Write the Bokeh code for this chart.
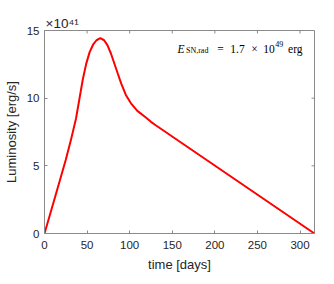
from bokeh.plotting import figure
from bokeh.models import Range1d, FixedTicker, Label
from bokeh.embed import file_html
from bokeh.resources import INLINE

# ---- data (luminosity in units of 1e41 erg/s) ----
days = [0, 12, 25, 31, 37, 41, 45, 49, 53, 57, 61, 65.5, 70, 74, 78, 82, 86, 90,
        95.5, 101.5, 109, 119, 125, 131, 317]
lum = [0, 2.6, 5.45, 6.9, 8.5, 9.95, 11.4, 12.55, 13.4, 13.95, 14.28, 14.43, 14.28,
       13.9, 13.3, 12.56, 11.82, 11.09, 10.24, 9.62, 9.06, 8.57, 8.25, 7.98, 0]
x_ticks = [0, 50, 100, 150, 200, 250, 300]
y_ticks = [0, 5, 10, 15]
x_label = "time [days]"
y_label = "Luminosity [erg/s]"
y_exponent = "\u00d710\u2074\u00b9"

XMAX, YMAX = 317, 15
TXT = "#262626"
AX = "#8a8a8a"

p = figure(width=326, height=274, output_backend="svg", toolbar_location=None,
           x_range=Range1d(0, XMAX), y_range=Range1d(0, YMAX),
           min_border_left=43, min_border_right=12, min_border_top=30, min_border_bottom=40)
p.background_fill_color = "white"
p.border_fill_color = "white"
p.outline_line_color = AX
p.grid.visible = False

# exponent of the y axis, as a left-aligned title just above the frame
p.title.text = y_exponent
p.title.align = "left"
p.title.offset = 1
p.title.standoff = 0
p.title.text_font = "Liberation Sans"
p.title.text_font_size = "13.5px"
p.title.text_font_style = "normal"
p.title.text_color = TXT

p.line(days, lum, line_color="#ff0000", line_width=2)

def style(ax, ticks):
    ax.ticker = FixedTicker(ticks=ticks)
    ax.axis_line_color = AX
    ax.major_tick_line_color = AX
    ax.major_tick_in = 3
    ax.major_tick_out = 0
    ax.minor_tick_line_color = None
    ax.major_label_text_color = TXT
    ax.major_label_text_font = "Liberation Sans"
    ax.major_label_text_font_size = "11.5px"
    ax.axis_label_text_color = TXT
    ax.axis_label_text_font = "Liberation Sans"
    ax.axis_label_text_font_size = "13px"
    ax.axis_label_text_font_style = "normal"

style(p.xaxis[0], x_ticks)
style(p.yaxis[0], y_ticks)
p.xaxis[0].axis_label = x_label
p.yaxis[0].axis_label = y_label
p.xaxis[0].major_label_standoff = 7
p.xaxis[0].axis_label_standoff = 5
p.yaxis[0].major_label_standoff = 5
p.yaxis[0].axis_label_standoff = 5
p.yaxis[0].major_label_orientation = "horizontal"

# inward ticks on the top and right edges of the box (MATLAB "box on")
TICK_PX = 3
FL, FR, FT, FB = 43.0, 314.0, 30.0, 234.0
tx = TICK_PX / (FR - FL) * XMAX
ty = TICK_PX / (FB - FT) * YMAX
p.segment(x0=x_ticks, y0=[YMAX] * len(x_ticks), x1=x_ticks, y1=[YMAX - ty] * len(x_ticks),
          line_color=AX, line_width=1)
p.segment(x0=[XMAX] * len(y_ticks), y0=y_ticks, x1=[XMAX - tx] * len(y_ticks), y1=y_ticks,
          line_color=AX, line_width=1)

# pixel -> data helper for the text annotation
def dx(px):
    return (px - FL) / (FR - FL) * XMAX
def dy(py):
    return (FB - py) / (FB - FT) * YMAX

def lab(text, px, py, size, style_="normal"):
    p.add_layout(Label(x=dx(px), y=dy(py), text=text, text_font="Liberation Serif",
                       text_font_size=size, text_font_style=style_, text_color="black",
                       text_align="left", text_baseline="alphabetic"))

# annotation  E_SN,rad = 1.7 x 10^49 erg
lab("E", 176.5, 48.5, "11.5px", style_="italic")
lab("SN,rad", 185.0, 50.5, "8px")
lab("=", 216.5, 48.5, "11.5px")
lab("1.7", 229.5, 48.5, "11.5px")
lab("\u00d7", 250.5, 48.5, "11.5px")
lab("10", 262.5, 48.5, "11.5px")
lab("49", 274.5, 43.5, "8px")
lab("erg", 287.5, 48.5, "11.5px")

open("out.html", "w").write(file_html(p, INLINE))
